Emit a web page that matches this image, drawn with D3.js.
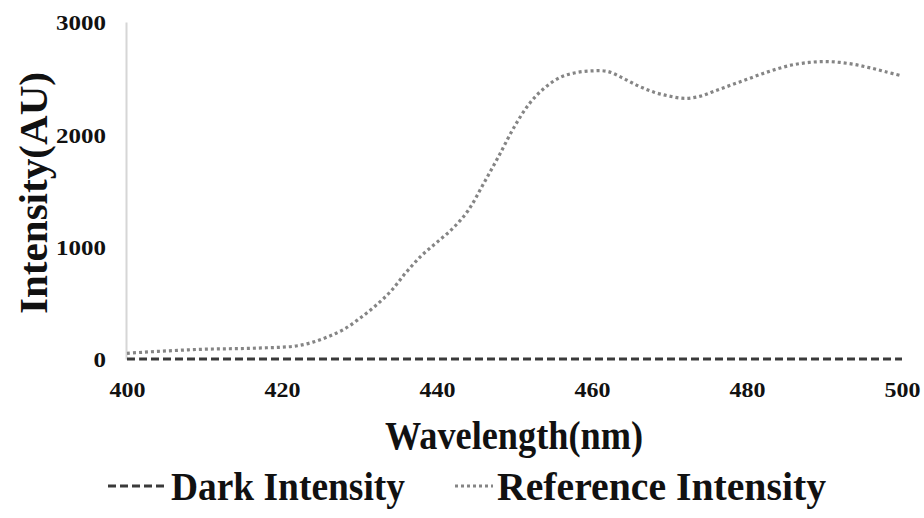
<!DOCTYPE html>
<html>
<head>
<meta charset="utf-8">
<script src="https://cdn.jsdelivr.net/npm/d3@7"></script>
<style>
  html, body { margin: 0; padding: 0; background: #ffffff; }
  svg { display: block; }
  text { font-family: "Liberation Serif", "Times New Roman", serif; font-weight: bold; fill: #111; }
</style>
</head>
<body>
<svg id="chart" width="924" height="518"></svg>
<script>
const wavelengths = [400,402,404,406,408,410,412,414,416,418,420,422,424,426,428,430,432,434,436,438,440,442,444,446,448,450,452,454,456,458,460,462,464,466,468,470,472,474,476,478,480,482,484,486,488,490,492,494,496,498,500];
const referenceIntensity = [50,60,68,75,82,87,90,92,95,100,105,118,150,200,265,360,470,600,770,920,1040,1160,1320,1560,1810,2070,2280,2420,2510,2550,2565,2560,2500,2430,2375,2340,2320,2340,2390,2440,2490,2540,2585,2620,2640,2648,2640,2620,2590,2555,2520];
const darkIntensity = [0,0,0,0,0,0,0,0,0,0,0,0,0,0,0,0,0,0,0,0,0,0,0,0,0,0,0,0,0,0,0,0,0,0,0,0,0,0,0,0,0,0,0,0,0,0,0,0,0,0,0];
const xTicks = [400,420,440,460,480,500];
const yTicks = [0,1000,2000,3000];
const seriesNames = ["Dark Intensity", "Reference Intensity"];
const xTitle = "Wavelength(nm)";
const yTitle = "Intensity(AU)";

const svg = d3.select("#chart");
const x = d3.scaleLinear().domain([400,500]).range([127,902]);
const y = d3.scaleLinear().domain([0,3000]).range([359,22]);

const FONT = "'Liberation Serif', 'Times New Roman', serif";

// Y axis
const yAxis = d3.axisLeft(y).tickValues(yTicks).tickSize(0).tickPadding(20).tickFormat(d3.format("d"));
const gy = svg.append("g").attr("transform","translate(126,0)").call(yAxis);
gy.select(".domain").attr("stroke","#d6d6d6").attr("stroke-width",2);
gy.selectAll("text")
  .style("font-family",FONT).style("font-weight","bold")
  .attr("font-size",22).attr("fill","#111")
  .attr("dy","0.36em")
  .attr("textLength", d => String(d).length*12.5)
  .attr("lengthAdjust","spacingAndGlyphs");

// X axis
const xAxis = d3.axisBottom(x).tickValues(xTicks).tickSize(0).tickPadding(22).tickFormat(d3.format("d"));
const gx = svg.append("g").attr("transform","translate(0,359)").call(xAxis);
gx.select(".domain").remove();
gx.selectAll("text")
  .style("font-family",FONT).style("font-weight","bold")
  .attr("font-size",22).attr("fill","#111")
  .attr("textLength", d => String(d).length*12)
  .attr("lengthAdjust","spacingAndGlyphs");

// Lines
const line = d3.line().x((d,i)=>x(wavelengths[i])).y(d=>y(d)).curve(d3.curveCatmullRom.alpha(0.5));

svg.append("path").datum(darkIntensity)
  .attr("d", line).attr("fill","none")
  .attr("stroke","#3a3a3a").attr("stroke-width",3).attr("stroke-dasharray","8 4");

svg.append("path").datum(referenceIntensity)
  .attr("d", line).attr("fill","none")
  .attr("stroke","#858585").attr("stroke-width",3.2).attr("stroke-dasharray","3 3");

// Axis titles
svg.append("text").attr("x",514).attr("y",449).attr("text-anchor","middle")
  .style("font-family",FONT)
  .attr("font-size",41).attr("textLength",258).attr("lengthAdjust","spacingAndGlyphs")
  .text(xTitle);
svg.append("text").attr("transform","translate(47,193) rotate(-90)").attr("text-anchor","middle")
  .style("font-family",FONT)
  .attr("font-size",41).attr("textLength",242).attr("lengthAdjust","spacingAndGlyphs")
  .text(yTitle);

// Legend
const legY = 486;
svg.append("line").attr("x1",108).attr("x2",168).attr("y1",legY).attr("y2",legY)
  .attr("stroke","#3a3a3a").attr("stroke-width",3).attr("stroke-dasharray","8 4");
svg.append("text").attr("x",171).attr("y",500).attr("font-size",40)
  .style("font-family",FONT)
  .attr("textLength",234).attr("lengthAdjust","spacingAndGlyphs").text(seriesNames[0]);
svg.append("line").attr("x1",455).attr("x2",493).attr("y1",legY).attr("y2",legY)
  .attr("stroke","#858585").attr("stroke-width",3.2).attr("stroke-dasharray","3 3");
svg.append("text").attr("x",497).attr("y",500).attr("font-size",40)
  .style("font-family",FONT)
  .attr("textLength",329).attr("lengthAdjust","spacingAndGlyphs").text(seriesNames[1]);
</script>
</body>
</html>
